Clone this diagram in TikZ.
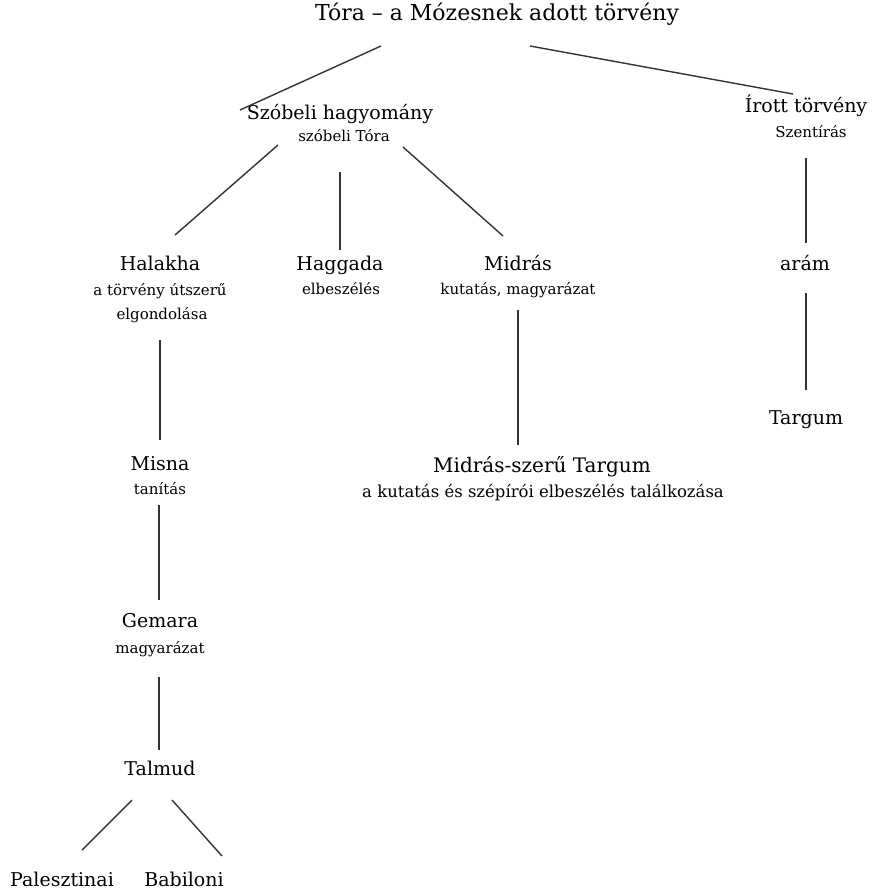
\documentclass[tikz,border=0pt]{standalone}
\usepackage{fontspec}
\setmainfont{DejaVu Serif}
\usetikzlibrary{positioning}

\begin{document}
\begin{tikzpicture}[
  x=1pt, y=-1pt,
  mainnode/.style={font=\fontsize{19}{22}\selectfont, inner sep=0pt, text height=0.7em, text depth=0.2em},
  titlenode/.style={mainnode, font=\fontsize{22}{24}\selectfont},
  subnode/.style={font=\fontsize{15}{17}\selectfont, inner sep=0pt, text height=0.7em, text depth=0.2em},
  link/.style={line width=1.4pt, black!80}
]
\useasboundingbox (0,0) rectangle (874,893);
\node[titlenode] (tora) at (497,18) {Tóra – a Mózesnek adott törvény};
\node[mainnode] (szobeli) at (340,117) {Szóbeli hagyomány};
\node[subnode] (szobelisub) at (344,139) {szóbeli Tóra};
\node[mainnode] (irott) at (806,110) {Írott törvény};
\node[subnode] (irottsub) at (811,135) {Szentírás};
\node[mainnode] (halakha) at (160,268) {Halakha};
\node[subnode] (halakhasub) at (160,293) {a törvény útszerű};
\node[subnode] (halakhasubb) at (162,317) {elgondolása};
\node[mainnode] (haggada) at (340,268) {Haggada};
\node[subnode] (haggadasub) at (341,292) {elbeszélés};
\node[mainnode] (midras) at (518,268) {Midrás};
\node[subnode] (midrassub) at (518,292) {kutatás, magyarázat};
\node[mainnode] (aram) at (805,268) {arám};
\node[mainnode] (targum) at (806,422) {Targum};
\node[mainnode, font=\fontsize{20}{22}\selectfont] (midrast) at (542,470) {Midrás-szerű Targum};
\node[subnode, font=\fontsize{16.5}{18}\selectfont] (midrastsub) at (543,495) {a kutatás és szépírói elbeszélés találkozása};
\node[mainnode] (misna) at (160,468) {Misna};
\node[subnode] (misnasub) at (160,492) {tanítás};
\node[mainnode] (gemara) at (160,625) {Gemara};
\node[subnode] (gemarasub) at (160,651) {magyarázat};
\node[mainnode] (talmud) at (160,773) {Talmud};
\node[mainnode] (palesztinai) at (62,884) {Palesztinai};
\node[mainnode] (babiloni) at (184,884) {Babiloni};

% connectors
\draw[link] ([shift={(-116,28)}]tora.center) -- ([shift={(-100,-7)}]szobeli.center);
\draw[link] ([shift={(33,28)}]tora.center) -- ([shift={(-13,-16)}]irott.center);
\draw[link] ([shift={(-62,28)}]szobeli.center) -- ([shift={(15,-33)}]halakha.center);
\draw[link] ([shift={(0,55)}]szobeli.center) -- ([shift={(0,-18)}]haggada.center);
\draw[link] ([shift={(63,30)}]szobeli.center) -- ([shift={(-15,-32)}]midras.center);
\draw[link] ([shift={(0,48)}]irott.center) -- ([shift={(1,-25)}]aram.center);
\draw[link] ([shift={(1,25)}]aram.center) -- ([shift={(0,-32)}]targum.center);
\draw[link] ([shift={(0,72)}]halakha.center) -- ([shift={(0,-28)}]misna.center);
\draw[link] ([shift={(0,42)}]midras.center) -- ([shift={(-24,-25)}]midrast.center);
\draw[link] ([shift={(-1,37)}]misna.center) -- ([shift={(-1,-25)}]gemara.center);
\draw[link] ([shift={(-1,52)}]gemara.center) -- ([shift={(-1,-23)}]talmud.center);
\draw[link] ([shift={(-28,27)}]talmud.center) -- ([shift={(20,-34)}]palesztinai.center);
\draw[link] ([shift={(12,27)}]talmud.center) -- ([shift={(38,-28)}]babiloni.center);
\end{tikzpicture}
\end{document}
